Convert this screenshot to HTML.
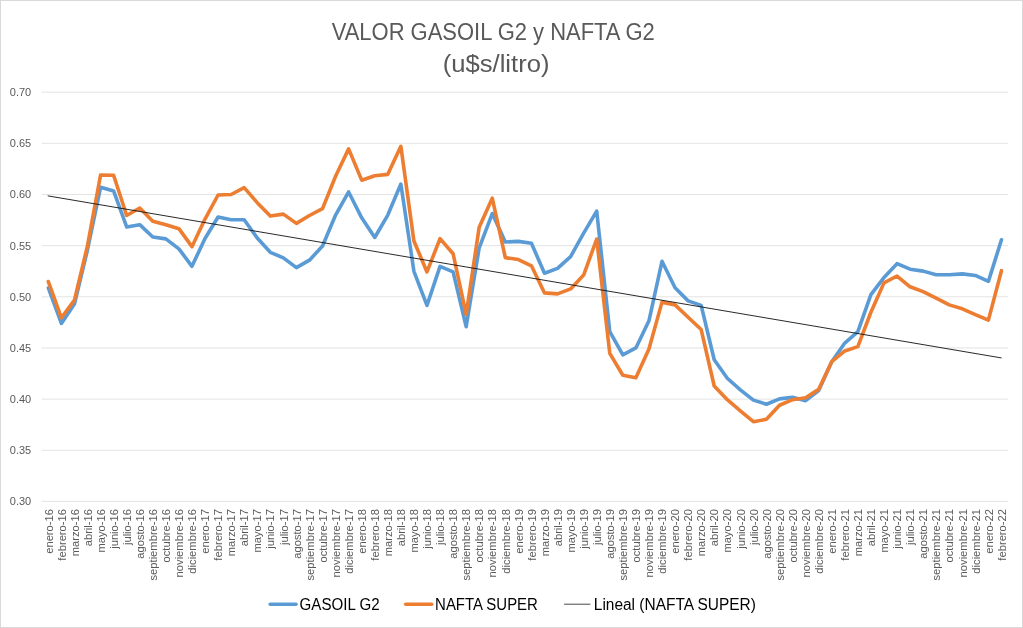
<!DOCTYPE html>
<html lang="es"><head><meta charset="utf-8"><title>VALOR GASOIL G2 y NAFTA G2</title>
<style>html,body{margin:0;padding:0;background:#fff;overflow:hidden}svg{display:block}text{font-family:"Liberation Sans",sans-serif}.ax{font-size:11px;fill:#595959}.xl{font-size:11.2px;fill:#595959}.lg{font-size:16px;fill:#000}.tt{font-size:23px;fill:#595959}</style></head><body>
<svg width="1023" height="628" viewBox="0 0 1023 628">
<rect x="0" y="0" width="1023" height="628" fill="#fff"/>
<rect x="0.5" y="0.5" width="1022" height="627" fill="none" stroke="#d9d9d9" stroke-width="1"/>
<line x1="41.8" y1="92.20" x2="1008.0" y2="92.20" stroke="#d9d9d9" stroke-width="0.75"/>
<text class="ax" x="31.2" y="96.10" text-anchor="end">0.70</text>
<line x1="41.8" y1="143.35" x2="1008.0" y2="143.35" stroke="#d9d9d9" stroke-width="0.75"/>
<text class="ax" x="31.2" y="147.25" text-anchor="end">0.65</text>
<line x1="41.8" y1="194.50" x2="1008.0" y2="194.50" stroke="#d9d9d9" stroke-width="0.75"/>
<text class="ax" x="31.2" y="198.40" text-anchor="end">0.60</text>
<line x1="41.8" y1="245.65" x2="1008.0" y2="245.65" stroke="#d9d9d9" stroke-width="0.75"/>
<text class="ax" x="31.2" y="249.55" text-anchor="end">0.55</text>
<line x1="41.8" y1="296.80" x2="1008.0" y2="296.80" stroke="#d9d9d9" stroke-width="0.75"/>
<text class="ax" x="31.2" y="300.70" text-anchor="end">0.50</text>
<line x1="41.8" y1="347.95" x2="1008.0" y2="347.95" stroke="#d9d9d9" stroke-width="0.75"/>
<text class="ax" x="31.2" y="351.85" text-anchor="end">0.45</text>
<line x1="41.8" y1="399.10" x2="1008.0" y2="399.10" stroke="#d9d9d9" stroke-width="0.75"/>
<text class="ax" x="31.2" y="403.00" text-anchor="end">0.40</text>
<line x1="41.8" y1="450.25" x2="1008.0" y2="450.25" stroke="#d9d9d9" stroke-width="0.75"/>
<text class="ax" x="31.2" y="454.15" text-anchor="end">0.35</text>
<line x1="41.8" y1="501.40" x2="1008.0" y2="501.40" stroke="#d9d9d9" stroke-width="0.75"/>
<text class="ax" x="31.2" y="505.30" text-anchor="end">0.30</text>
<text class="tt" x="493.2" y="40.3" text-anchor="middle" textLength="323" lengthAdjust="spacingAndGlyphs">VALOR GASOIL G2 y NAFTA G2</text>
<text class="tt" x="496.1" y="72.3" text-anchor="middle" textLength="106.8" lengthAdjust="spacingAndGlyphs">(u$s/litro)</text>
<path d="M48.33,288.00 L61.39,323.40 L74.44,304.06 L87.50,249.74 L100.56,187.34 L113.61,190.92 L126.67,226.93 L139.73,224.68 L152.78,237.06 L165.84,238.90 L178.90,248.82 L191.95,266.31 L205.01,238.49 L218.07,217.01 L231.12,219.77 L244.18,219.77 L257.24,237.98 L270.29,252.30 L283.35,257.82 L296.41,267.64 L309.46,260.18 L322.52,246.06 L335.58,215.06 L348.63,191.94 L361.69,217.82 L374.75,237.47 L387.80,215.06 L400.86,184.07 L413.92,271.33 L426.97,305.39 L440.03,266.42 L453.09,271.94 L466.14,326.67 L479.20,247.80 L492.26,213.53 L505.31,241.97 L518.37,241.35 L531.43,243.30 L544.49,273.27 L557.54,268.36 L570.60,256.60 L583.66,233.07 L596.71,211.17 L609.77,331.58 L622.83,354.80 L635.88,347.95 L648.94,320.84 L662.00,261.30 L675.05,287.80 L688.11,300.89 L701.17,305.39 L714.22,359.71 L727.28,378.23 L740.34,389.89 L753.39,400.12 L766.45,404.21 L779.51,398.90 L792.56,397.36 L805.62,400.63 L818.68,390.51 L831.73,361.66 L844.79,343.04 L857.85,331.58 L870.90,294.65 L883.96,277.57 L897.02,263.65 L910.07,269.18 L923.13,271.12 L936.19,274.70 L949.24,274.70 L962.30,273.88 L975.36,275.42 L988.41,281.35 L1001.47,239.82" fill="none" stroke="#5b9bd5" stroke-width="3.6" stroke-linejoin="round" stroke-linecap="round"/>
<path d="M48.33,281.56 L61.39,317.77 L74.44,300.18 L87.50,245.65 L100.56,175.06 L113.61,175.27 L126.67,215.47 L139.73,208.00 L152.78,221.20 L165.84,224.68 L178.90,228.67 L191.95,246.67 L205.01,219.05 L218.07,195.01 L231.12,194.50 L244.18,187.65 L257.24,202.68 L270.29,216.09 L283.35,214.14 L296.41,223.35 L309.46,215.47 L322.52,208.62 L335.58,176.29 L348.63,148.87 L361.69,180.18 L374.75,175.68 L387.80,174.35 L400.86,146.32 L413.92,240.94 L426.97,271.94 L440.03,238.59 L453.09,253.73 L466.14,314.40 L479.20,227.24 L492.26,198.18 L505.31,257.62 L518.37,259.56 L531.43,265.80 L544.49,292.91 L557.54,293.83 L570.60,288.92 L583.66,275.11 L596.71,239.00 L609.77,353.37 L622.83,375.26 L635.88,377.82 L648.94,348.97 L662.00,302.12 L675.05,304.88 L688.11,317.26 L701.17,329.54 L714.22,386.01 L727.28,399.71 L740.34,410.97 L753.39,421.71 L766.45,419.25 L779.51,405.24 L792.56,399.71 L805.62,397.77 L818.68,389.38 L831.73,361.66 L844.79,350.92 L857.85,346.62 L870.90,312.25 L883.96,282.89 L897.02,276.03 L910.07,286.77 L923.13,291.68 L936.19,298.13 L949.24,304.88 L962.30,308.77 L975.36,314.60 L988.41,320.12 L1001.47,270.71" fill="none" stroke="#ed7d31" stroke-width="3.6" stroke-linejoin="round" stroke-linecap="round"/>
<line x1="48.1" y1="195.9" x2="1001.2" y2="357.9" stroke="#111" stroke-width="0.9" stroke-linecap="round"/>
<text class="xl" transform="translate(52.53,509) rotate(-90)" text-anchor="end">enero-16</text>
<text class="xl" transform="translate(65.59,509) rotate(-90)" text-anchor="end">febrero-16</text>
<text class="xl" transform="translate(78.64,509) rotate(-90)" text-anchor="end">marzo-16</text>
<text class="xl" transform="translate(91.70,509) rotate(-90)" text-anchor="end">abril-16</text>
<text class="xl" transform="translate(104.76,509) rotate(-90)" text-anchor="end">mayo-16</text>
<text class="xl" transform="translate(117.81,509) rotate(-90)" text-anchor="end">junio-16</text>
<text class="xl" transform="translate(130.87,509) rotate(-90)" text-anchor="end">julio-16</text>
<text class="xl" transform="translate(143.93,509) rotate(-90)" text-anchor="end">agosto-16</text>
<text class="xl" transform="translate(156.98,509) rotate(-90)" text-anchor="end">septiembre-16</text>
<text class="xl" transform="translate(170.04,509) rotate(-90)" text-anchor="end">octubre-16</text>
<text class="xl" transform="translate(183.10,509) rotate(-90)" text-anchor="end">noviembre-16</text>
<text class="xl" transform="translate(196.15,509) rotate(-90)" text-anchor="end">diciembre-16</text>
<text class="xl" transform="translate(209.21,509) rotate(-90)" text-anchor="end">enero-17</text>
<text class="xl" transform="translate(222.27,509) rotate(-90)" text-anchor="end">febrero-17</text>
<text class="xl" transform="translate(235.32,509) rotate(-90)" text-anchor="end">marzo-17</text>
<text class="xl" transform="translate(248.38,509) rotate(-90)" text-anchor="end">abril-17</text>
<text class="xl" transform="translate(261.44,509) rotate(-90)" text-anchor="end">mayo-17</text>
<text class="xl" transform="translate(274.49,509) rotate(-90)" text-anchor="end">junio-17</text>
<text class="xl" transform="translate(287.55,509) rotate(-90)" text-anchor="end">julio-17</text>
<text class="xl" transform="translate(300.61,509) rotate(-90)" text-anchor="end">agosto-17</text>
<text class="xl" transform="translate(313.66,509) rotate(-90)" text-anchor="end">septiembre-17</text>
<text class="xl" transform="translate(326.72,509) rotate(-90)" text-anchor="end">octubre-17</text>
<text class="xl" transform="translate(339.78,509) rotate(-90)" text-anchor="end">noviembre-17</text>
<text class="xl" transform="translate(352.83,509) rotate(-90)" text-anchor="end">diciembre-17</text>
<text class="xl" transform="translate(365.89,509) rotate(-90)" text-anchor="end">enero-18</text>
<text class="xl" transform="translate(378.95,509) rotate(-90)" text-anchor="end">febrero-18</text>
<text class="xl" transform="translate(392.00,509) rotate(-90)" text-anchor="end">marzo-18</text>
<text class="xl" transform="translate(405.06,509) rotate(-90)" text-anchor="end">abril-18</text>
<text class="xl" transform="translate(418.12,509) rotate(-90)" text-anchor="end">mayo-18</text>
<text class="xl" transform="translate(431.17,509) rotate(-90)" text-anchor="end">junio-18</text>
<text class="xl" transform="translate(444.23,509) rotate(-90)" text-anchor="end">julio-18</text>
<text class="xl" transform="translate(457.29,509) rotate(-90)" text-anchor="end">agosto-18</text>
<text class="xl" transform="translate(470.34,509) rotate(-90)" text-anchor="end">septiembre-18</text>
<text class="xl" transform="translate(483.40,509) rotate(-90)" text-anchor="end">octubre-18</text>
<text class="xl" transform="translate(496.46,509) rotate(-90)" text-anchor="end">noviembre-18</text>
<text class="xl" transform="translate(509.51,509) rotate(-90)" text-anchor="end">diciembre-18</text>
<text class="xl" transform="translate(522.57,509) rotate(-90)" text-anchor="end">enero-19</text>
<text class="xl" transform="translate(535.63,509) rotate(-90)" text-anchor="end">febrero-19</text>
<text class="xl" transform="translate(548.69,509) rotate(-90)" text-anchor="end">marzo-19</text>
<text class="xl" transform="translate(561.74,509) rotate(-90)" text-anchor="end">abril-19</text>
<text class="xl" transform="translate(574.80,509) rotate(-90)" text-anchor="end">mayo-19</text>
<text class="xl" transform="translate(587.86,509) rotate(-90)" text-anchor="end">junio-19</text>
<text class="xl" transform="translate(600.91,509) rotate(-90)" text-anchor="end">julio-19</text>
<text class="xl" transform="translate(613.97,509) rotate(-90)" text-anchor="end">agosto-19</text>
<text class="xl" transform="translate(627.03,509) rotate(-90)" text-anchor="end">septiembre-19</text>
<text class="xl" transform="translate(640.08,509) rotate(-90)" text-anchor="end">octubre-19</text>
<text class="xl" transform="translate(653.14,509) rotate(-90)" text-anchor="end">noviembre-19</text>
<text class="xl" transform="translate(666.20,509) rotate(-90)" text-anchor="end">diciembre-19</text>
<text class="xl" transform="translate(679.25,509) rotate(-90)" text-anchor="end">enero-20</text>
<text class="xl" transform="translate(692.31,509) rotate(-90)" text-anchor="end">febrero-20</text>
<text class="xl" transform="translate(705.37,509) rotate(-90)" text-anchor="end">marzo-20</text>
<text class="xl" transform="translate(718.42,509) rotate(-90)" text-anchor="end">abril-20</text>
<text class="xl" transform="translate(731.48,509) rotate(-90)" text-anchor="end">mayo-20</text>
<text class="xl" transform="translate(744.54,509) rotate(-90)" text-anchor="end">junio-20</text>
<text class="xl" transform="translate(757.59,509) rotate(-90)" text-anchor="end">julio-20</text>
<text class="xl" transform="translate(770.65,509) rotate(-90)" text-anchor="end">agosto-20</text>
<text class="xl" transform="translate(783.71,509) rotate(-90)" text-anchor="end">septiembre-20</text>
<text class="xl" transform="translate(796.76,509) rotate(-90)" text-anchor="end">octubre-20</text>
<text class="xl" transform="translate(809.82,509) rotate(-90)" text-anchor="end">noviembre-20</text>
<text class="xl" transform="translate(822.88,509) rotate(-90)" text-anchor="end">diciembre-20</text>
<text class="xl" transform="translate(835.93,509) rotate(-90)" text-anchor="end">enero-21</text>
<text class="xl" transform="translate(848.99,509) rotate(-90)" text-anchor="end">febrero-21</text>
<text class="xl" transform="translate(862.05,509) rotate(-90)" text-anchor="end">marzo-21</text>
<text class="xl" transform="translate(875.10,509) rotate(-90)" text-anchor="end">abril-21</text>
<text class="xl" transform="translate(888.16,509) rotate(-90)" text-anchor="end">mayo-21</text>
<text class="xl" transform="translate(901.22,509) rotate(-90)" text-anchor="end">junio-21</text>
<text class="xl" transform="translate(914.27,509) rotate(-90)" text-anchor="end">julio-21</text>
<text class="xl" transform="translate(927.33,509) rotate(-90)" text-anchor="end">agosto-21</text>
<text class="xl" transform="translate(940.39,509) rotate(-90)" text-anchor="end">septiembre-21</text>
<text class="xl" transform="translate(953.44,509) rotate(-90)" text-anchor="end">octubre-21</text>
<text class="xl" transform="translate(966.50,509) rotate(-90)" text-anchor="end">noviembre-21</text>
<text class="xl" transform="translate(979.56,509) rotate(-90)" text-anchor="end">diciembre-21</text>
<text class="xl" transform="translate(992.61,509) rotate(-90)" text-anchor="end">enero-22</text>
<text class="xl" transform="translate(1005.67,509) rotate(-90)" text-anchor="end">febrero-22</text>
<line x1="270.2" y1="604.2" x2="296" y2="604.2" stroke="#5b9bd5" stroke-width="3.6" stroke-linecap="round"/>
<text class="lg" x="299.6" y="609.7" textLength="80" lengthAdjust="spacingAndGlyphs">GASOIL G2</text>
<line x1="405.7" y1="604.2" x2="431.7" y2="604.2" stroke="#ed7d31" stroke-width="3.6" stroke-linecap="round"/>
<text class="lg" x="435.1" y="609.7" textLength="102.8" lengthAdjust="spacingAndGlyphs">NAFTA SUPER</text>
<line x1="564.5" y1="604.2" x2="590" y2="604.2" stroke="#333" stroke-width="0.9" stroke-linecap="round"/>
<text class="lg" x="593.8" y="609.7" textLength="162" lengthAdjust="spacingAndGlyphs">Lineal (NAFTA SUPER)</text>
</svg></body></html>
